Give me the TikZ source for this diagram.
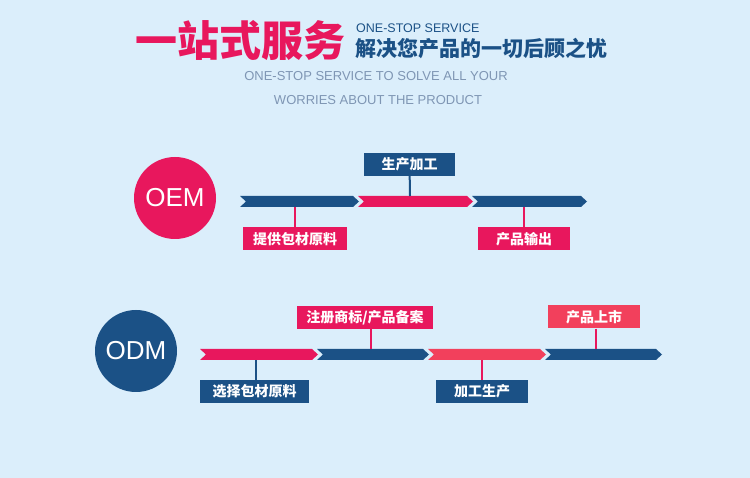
\documentclass[tikz,border=0pt]{standalone}
\usepackage{fontspec}
\setmainfont{Liberation Sans}
\newfontfamily\cjk{Noto Sans CJK SC}
\usetikzlibrary{positioning}
\definecolor{navy}{HTML}{1B5186}
\definecolor{rose}{HTML}{E8175D}
\definecolor{coral}{HTML}{F2405C}
\definecolor{paper}{HTML}{DBEEFB}
\definecolor{mist}{HTML}{7F96B4}
\tikzset{
  tag/.style={fill=#1, text=white, font=\cjk\bfseries\fontsize{14}{14}\selectfont,
    inner sep=0pt, minimum height=23pt},
  badge/.style={circle, fill=#1, text=white, minimum size=82pt, inner sep=0pt,
    font=\fontsize{26}{26}\selectfont},
  stem/.style={line width=2pt, #1},
}
\newcommand{\seg}[4]{% x1 x2 y colour
  \fill[#4] (#1,#3-5.5) -- (#2,#3-5.5) -- (#2+6,#3)
    -- (#2,#3+5.5) -- (#1,#3+5.5) -- (#1+6,#3) -- cycle;}
\begin{document}
\begin{tikzpicture}[x=1pt, y=-1pt]
  \fill[paper] (0,0) rectangle (750,478);
  \useasboundingbox (0,0) rectangle (750,478);
  % heading
  \node[anchor=east, text=rose, font=\cjk\bfseries\fontsize{42}{42}\selectfont, inner sep=0pt] (title) at (346,41) {一站式服务};
  \node[anchor=west, text=navy, font=\fontsize{12.5}{12.5}\selectfont, inner sep=0pt] (en) at (356,28) {ONE-STOP SERVICE};
  \node[anchor=west, text=navy, font=\cjk\bfseries\fontsize{21}{21}\selectfont, inner sep=0pt] (zh) at (355,49) {解决您产品的一切后顾之忧};
  \node[text=mist, font=\fontsize{13}{13}\selectfont, inner sep=0pt] (sub1) at (376,76) {ONE-STOP SERVICE TO SOLVE ALL YOUR};
  \node[text=mist, font=\fontsize{13}{13}\selectfont, inner sep=0pt] (sub2) at (378,100) {WORRIES ABOUT THE PRODUCT};
  % OEM
  \node[badge=rose] (oem) at (175,198) {OEM};
  \seg{240}{353}{201.5}{navy}
  \seg{358}{467}{201.5}{rose}
  \seg{472}{581}{201.5}{navy}
  \node[tag=navy, minimum width=91pt] (make) at (409.5,164.5) {生产加工};
  \node[tag=rose, minimum width=104pt] (pack) at (295,239) {提供包材原料};
  \node[tag=rose, minimum width=92pt] (ship) at (524,239) {产品输出};
  \coordinate (m1) at (410,196);
  \coordinate (p1) at (295,207);
  \coordinate (s1) at (524,207);
  \draw[stem=navy] (make) -- (m1);
  \draw[stem=rose] (pack) -- (p1);
  \draw[stem=rose] (ship) -- (s1);
  % ODM
  \node[badge=navy] (odm) at (136,351) {ODM};
  \seg{200}{312}{354.5}{rose}
  \seg{317}{423}{354.5}{navy}
  \seg{428}{540}{354.5}{coral}
  \seg{545}{656}{354.5}{navy}
  \node[tag=rose, minimum width=136pt] (reg) at (365,317.5) {注册商标/产品备案};
  \node[tag=coral, minimum width=92pt] (sell) at (594,317) {产品上市};
  \node[tag=navy, minimum width=109pt] (pick) at (254.5,391.5) {选择包材原料};
  \node[tag=navy, minimum width=92pt] (work) at (482,391.5) {加工生产};
  \coordinate (r1) at (371,349);
  \coordinate (l1) at (596,349);
  \coordinate (k1) at (256,360);
  \coordinate (w1) at (482,360);
  \draw[stem=rose] (reg.south -| r1) -- (r1);
  \draw[stem=rose] (sell.south -| l1) -- (l1);
  \draw[stem=navy] (pick.north -| k1) -- (k1);
  \draw[stem=rose] (work) -- (w1);
\end{tikzpicture}
\end{document}
